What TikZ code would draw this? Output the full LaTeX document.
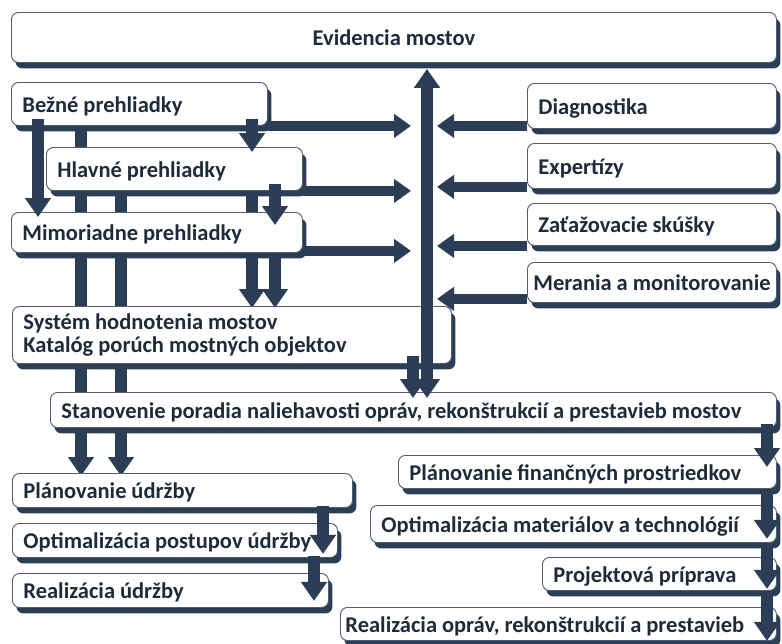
\documentclass[tikz,border=0pt]{standalone}
\usepackage{fontspec}
\setmainfont{Carlito}
\usetikzlibrary{arrows.meta,shadows,calc}
\definecolor{navy}{HTML}{2C3E56}
\definecolor{txt}{HTML}{1E2B3B}
\definecolor{edge}{HTML}{4F5D6E}
\pgfdeclarelayer{bg}
\pgfsetlayers{bg,main}
\tikzset{
  bx/.style={draw=edge, line width=0.9pt, fill=white, rounded corners=7pt,
    drop shadow={shadow xshift=4pt, shadow yshift=-6pt, opacity=1, fill=navy},
    font=\bfseries\fontsize{22.5}{23}\selectfont, text=txt, inner ysep=2pt,
    text height=18pt, text depth=1pt},
  va/.style={draw=navy, line width=12pt, -{Triangle[width=25pt,length=19pt]}},
  vb/.style={draw=navy, line width=12pt, {Triangle[width=25pt,length=19pt]}-{Triangle[width=25pt,length=19pt]}},
  ha/.style={draw=navy, line width=10pt, -{Triangle[width=23pt,length=17pt]}},
}
\def\bpad{11}
\newcommand{\mkbox}[7][align=left]{%
  \pgfmathsetmacro\bw{#4-#2}\pgfmathsetmacro\bh{#5-#3}\pgfmathsetmacro\tw{#4-#2-2*\bpad}%
  \node[bx,anchor=north west,minimum width=\bw pt,minimum height=\bh pt,
        text width=\tw pt,inner xsep=\bpad pt,#1] (#6) at (#2,#3)
        {\spaceskip=0.22em\relax #7};}
\begin{document}
\begin{tikzpicture}[x=1pt,y=-1pt]
\useasboundingbox (0,0) rectangle (782,643);
% column / tip coordinates
\coordinate (cA) at (38,0);
\coordinate (cB) at (81,0);
\coordinate (cC) at (121,0);
\coordinate (cD) at (252,0);
\coordinate (cE) at (275,0);
\coordinate (cF) at (413,0);
\coordinate (cV) at (427,0);
\coordinate (cR) at (767,0);
\coordinate (cL1) at (323,0);
\coordinate (cL2) at (314,0);
\coordinate (tL) at (411,0);
\coordinate (tR) at (437,0);
% boxes
\mkbox[align=center]{11}{12}{776}{62}{ev}{Evidencia mostov}
\mkbox{11}{82}{267}{125}{bez}{Bežné prehliadky}
\mkbox{46}{147}{302}{190}{hla}{Hlavné prehliadky}
\mkbox{11}{212}{302}{252}{mim}{Mimoriadne prehliadky}
\mkbox[align=left,text height=,text depth=]{12}{306}{451}{363}{sys}{Systém hodnotenia mostov\\Katalóg porúch mostných objektov}
\mkbox{50}{392}{776}{427}{sta}{\mbox{Stanovenie poradia naliehavosti opráv, rekonštrukcií a prestavieb mostov}}
\mkbox{12}{473}{352}{507}{plu}{Plánovanie údržby}
\mkbox{12}{523}{337}{557}{opu}{Optimalizácia postupov údržby}
\mkbox{12}{573}{328}{607}{reu}{Realizácia údržby}
\mkbox{527}{83}{776}{128}{dia}{Diagnostika}
\mkbox{527}{143}{776}{188}{exp}{Expertízy}
\mkbox{527}{203}{776}{245}{zat}{Zaťažovacie skúšky}
\def\bpad{6}
\mkbox{527}{262}{776}{302}{mer}{\mbox{Merania a monitorovanie}}
\def\bpad{11}
\mkbox{398}{455}{776}{488}{plf}{Plánovanie finančných prostriedkov}
\mkbox{370}{505}{776}{542}{oma}{Optimalizácia materiálov a technológií}
\mkbox{542}{557}{776}{590}{pro}{Projektová príprava}
\def\bpad{5}
\mkbox{340}{607}{776}{640}{rop}{\mbox{Realizácia opráv, rekonštrukcií a prestavieb}}
\def\bpad{11}
% connectors behind the boxes
\begin{pgfonlayer}{bg}
\draw[ha] (bez.south east) -- (bez.south east -| tL);
\draw[ha] (hla.south east) -- (hla.south east -| tL);
\draw[ha] ($(mim.south east)+(0,-2)$) -- ($(mim.south east -| tL)+(0,-2)$);
\draw[ha] ($(dia.south west)+(0,-3)$) -- ($(dia.south west -| tR)+(0,-3)$);
\draw[ha] ($(exp.south west)+(0,-2)$) -- ($(exp.south west -| tR)+(0,-2)$);
\draw[ha] (zat.south west) -- (zat.south west -| tR);
\draw[ha] ($(mer.south west)+(0,-4)$) -- ($(mer.south west -| tR)+(0,-4)$);
\draw[va] (hla.south -| cD) -- ($(sys.north -| cD)+(0,2)$);
\draw[va] (mim.south -| cE) -- ($(sys.north -| cE)+(0,2)$);
\draw[va] (bez.south -| cB) -- ($(plu.north -| cB)+(0,3)$);
\draw[va] (hla.south -| cC) -- ($(plu.north -| cC)+(0,3)$);
\end{pgfonlayer}
% connectors in front
\draw[va] ($(bez.south -| cA)+(0,-7)$) -- ($(mim.north -| cA)+(0,5)$);
\draw[va] ($(bez.south -| cD)+(0,-7)$) -- ($(hla.north -| cD)+(0,5)$);
\draw[va] ($(hla.south -| cE)+(0,-7)$) -- ($(mim.north -| cE)+(0,13)$);
\draw[va] ($(sys.south -| cF)+(0,-8)$) -- ($(sta.north -| cF)+(0,6)$);
\draw[vb] ($(sta.north -| cV)+(0,6)$) -- ($(ev.south -| cV)+(0,6)$);
\draw[va] ($(sta.south -| cR)+(0,-4)$) -- ($(plf.north -| cR)+(0,12)$);
\draw[va] (plf.south -| cR) -- ($(oma.south -| cR)+(0,-4)$);
\draw[va] (oma.south -| cR) -- ($(pro.south -| cR)+(0,-2)$);
\draw[va] (pro.south -| cR) -- (rop.south -| cR);
\draw[va] ($(plu.south -| cL1)+(0,-2)$) -- ($(opu.south -| cL1)+(0,-4)$);
\draw[va] ($(opu.south -| cL2)+(0,-2)$) -- ($(reu.south -| cL2)+(0,-7)$);
\end{tikzpicture}
\end{document}
